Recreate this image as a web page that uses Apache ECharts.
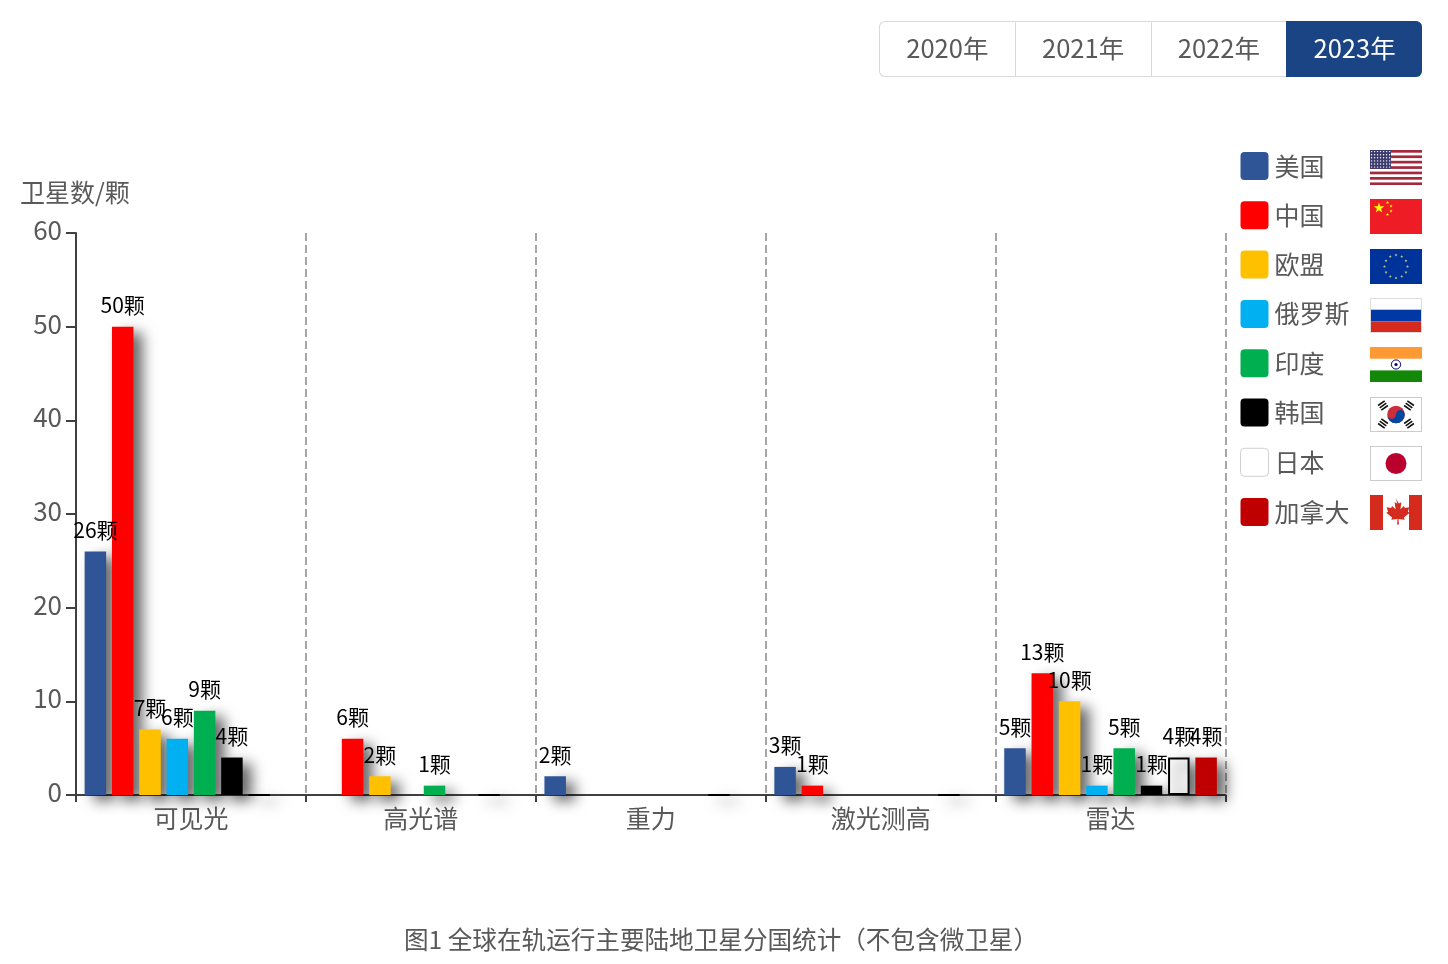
<!DOCTYPE html>
<html>
<head>
<meta charset="utf-8">
<title>全球在轨运行主要陆地卫星分国统计</title>
<style>
html, body { margin: 0; padding: 0; background: #fff; }
body { width: 1448px; height: 964px; position: relative; overflow: hidden; font-family: "Noto Sans CJK SC", sans-serif; }
#main { position: absolute; left: 0; top: 0; width: 1448px; height: 964px; }
.years { position: absolute; left: 879px; top: 21px; height: 56px; display: flex; z-index: 2; }
.years div { width: 134.75px; height: 54px; line-height: 50px; text-align: center; font-size: 25.5px; color: #595959;
    border: 1px solid #d9d9d9; border-right-width: 0; box-sizing: content-box; }
.years div:first-child { border-radius: 6px 0 0 6px; }
.years div.on { background: #1a4484; color: #fff; border-color: #1a4484; border-radius: 0 6px 6px 0; }
.flag { position: absolute; left: 1370px; width: 52px; height: 35px; z-index: 2; display: block; }
</style>
</head>
<body>
<div class="years" id="years"></div>
<div id="main"></div>
<script src="https://cdn.jsdelivr.net/npm/echarts@6/dist/echarts.min.js"></script>
<script type="text/javascript">
var years = ['2020年', '2021年', '2022年', '2023年'];
var categories = ['可见光', '高光谱', '重力', '激光测高', '雷达'];
var countries = ['美国', '中国', '欧盟', '俄罗斯', '印度', '韩国', '日本', '加拿大'];
var colors = ['#2f5597', '#ff0000', '#ffc000', '#00b0f0', '#00b050', '#000000', '#fafafa', '#c00000'];

var usa = [26, 0, 2, 3, 5];
var china = [50, 6, 0, 1, 13];
var eu = [7, 2, 0, 0, 10];
var russia = [6, 0, 0, 0, 1];
var india = [9, 1, 0, 0, 5];
var korea = [4, 0, 0, 0, 1];
var japan = [0, 0, 0, 0, 4];
var canada = [0, 0, 0, 0, 4];
var values = [usa, china, eu, russia, india, korea, japan, canada];

// 国旗
var star = function(cx, cy, r, fill) {
    var pts = [];
    for (var i = 0; i < 10; i++) {
        var a = -Math.PI / 2 + i * Math.PI / 5;
        var d = i % 2 ? r * 0.4 : r;
        pts.push((cx + d * Math.cos(a)).toFixed(2) + ',' + (cy + d * Math.sin(a)).toFixed(2));
    }
    return '<polygon fill="' + fill + '" points="' + pts.join(' ') + '"/>';
};
var usFlag = function() {
    var s = '<rect width="52" height="35" fill="#fff"/>';
    for (var i = 0; i < 7; i++) {
        s += '<rect y="' + (i * 5.4) + '" width="52" height="2.7" fill="#a3293f"/>';
    }
    s += '<rect width="21" height="18.9" fill="#3c3b6e"/>';
    for (var r = 0; r < 6; r++) {
        for (var c = 0; c < 7; c++) {
            s += '<circle cx="' + (1.6 + c * 3) + '" cy="' + (1.6 + r * 3.1) + '" r="0.7" fill="#fff"/>';
        }
    }
    return s;
};
var euFlag = function() {
    var s = '<rect width="52" height="35" fill="#003399"/>';
    for (var i = 0; i < 12; i++) {
        var a = i * Math.PI / 6;
        s += star(26 + 11.5 * Math.cos(a), 17.5 + 11.5 * Math.sin(a), 1.6, '#c9c98a');
    }
    return s;
};
var koreaBars = function() {
    var s = '', pos = [[13, 8.5, -35], [39, 8.5, 35], [13, 26.5, 35], [39, 26.5, -35]];
    for (var i = 0; i < 4; i++) {
        s += '<g transform="translate(' + pos[i][0] + ' ' + pos[i][1] + ') rotate(' + pos[i][2] + ')" fill="#111">' +
            '<rect x="-4" y="-3.6" width="8" height="1.6"/><rect x="-4" y="-0.8" width="8" height="1.6"/><rect x="-4" y="2" width="8" height="1.6"/></g>';
    }
    return s;
};
var flags = [
    usFlag(),
    '<rect width="52" height="35" fill="#ee1c25"/>' + star(9, 9, 5.5, '#ffff00') + star(17.5, 3.5, 1.7, '#ffff00') +
        star(21, 7, 1.7, '#ffff00') + star(21, 12, 1.7, '#ffff00') + star(17.5, 15.5, 1.7, '#ffff00'),
    euFlag(),
    '<rect width="52" height="35" fill="#fff"/><rect y="11.7" width="52" height="11.7" fill="#0039a6"/><rect y="23.4" width="52" height="11.6" fill="#d52b1e"/><rect x=".5" y=".5" width="51" height="34" fill="none" stroke="#ddd"/>',
    '<rect width="52" height="35" fill="#fff"/><rect width="52" height="11.7" fill="#ff9933"/><rect y="23.4" width="52" height="11.6" fill="#138808"/><circle cx="26" cy="17.5" r="4.6" fill="none" stroke="#000080"/><circle cx="26" cy="17.5" r="1.6" fill="#000080"/>',
    '<rect width="52" height="35" fill="#fff"/><rect x=".5" y=".5" width="51" height="34" fill="none" stroke="#ccc"/>' + koreaBars() +
        '<circle cx="26" cy="17.5" r="8.8" fill="#cd2e3a"/><path d="M17.2 17.5a4.4 4.4 0 0 0 8.8 0a4.4 4.4 0 0 1 8.8 0a8.8 8.8 0 0 1-17.6 0z" fill="#0047a0"/>',
    '<rect width="52" height="35" fill="#fff"/><rect x=".5" y=".5" width="51" height="34" fill="none" stroke="#ccc"/><circle cx="26" cy="17.5" r="10.5" fill="#bc002d"/>',
    '<rect width="52" height="35" fill="#fff"/><rect width="13" height="35" fill="#d52b1e"/><rect x="39" width="13" height="35" fill="#d52b1e"/>' +
        '<path d="M26 3.5l2.8 5 2.6-1.2-1 7 3.5-3.4 1 2.1 4.4-.8-1.4 4.6 1.8 1-5.8 4.7.8 2.2-6.2-.8.4 5.6h-1.8l.4-5.6-6.2.8.8-2.2-5.8-4.7 1.8-1-1.4-4.6 4.4.8 1-2.1 3.5 3.4-1-7 2.6 1.2z" fill="#d52b1e"/>'
];

var yearsBox = document.getElementById('years');
for (var y = 0; y < years.length; y++) {
    var btn = document.createElement('div');
    btn.textContent = years[y];
    if (y === years.length - 1) btn.className = 'on';
    yearsBox.appendChild(btn);
}
for (var f = 0; f < flags.length; f++) {
    var wrap = document.createElement('div');
    wrap.innerHTML = '<svg class="flag" style="top:' + (150 + f * 49.3) + 'px" viewBox="0 0 52 35" xmlns="http://www.w3.org/2000/svg">' + flags[f] + '</svg>';
    document.body.appendChild(wrap.firstChild);
}

var textFont = '"Noto Sans CJK SC", sans-serif';
var showLabel = function(p) {
    return p.value === 0 ? '' : p.value + '颗';
};
var series = [];
for (var i = 0; i < countries.length; i++) {
    var isJapan = countries[i] === '日本';
    series.push({
        name: countries[i],
        type: 'bar',
        barWidth: 21.5,
        barGap: '27%',
        data: values[i],
        label: {
            show: true,
            position: 'top',
            distance: 11,
            color: '#000',
            fontSize: 21,
            fontFamily: textFont,
            formatter: showLabel
        },
        itemStyle: {
            color: colors[i],
            borderColor: isJapan ? '#000' : 'transparent',
            borderWidth: isJapan ? 2 : 0,
            shadowColor: 'rgba(0,0,0,0.6)',
            shadowBlur: 14,
            shadowOffsetX: 9,
            shadowOffsetY: 6
        }
    });
}

var legendData = [];
for (var j = 0; j < countries.length; j++) {
    legendData.push({
        name: countries[j],
        itemStyle: {
            color: countries[j] === '日本' ? '#fff' : colors[j],
            borderColor: countries[j] === '日本' ? '#d0d0d0' : 'transparent',
            borderWidth: countries[j] === '日本' ? 1 : 0,
            shadowBlur: 0,
            shadowOffsetX: 0,
            shadowOffsetY: 0
        }
    });
}

var option = {
    animation: false,
    title: {
        text: '图1 全球在轨运行主要陆地卫星分国统计（不包含微卫星）',
        left: 721,
        top: 927,
        padding: 0,
        textAlign: 'center',
        textStyle: { color: '#595959', fontSize: 24.6, fontWeight: 'normal', fontFamily: textFont }
    },
    legend: {
        data: legendData,
        orient: 'vertical',
        left: 1235,
        top: 147,
        itemWidth: 28,
        itemHeight: 28,
        itemGap: 21.3,
        icon: 'path://M4 0H24a4 4 0 0 1 4 4V24a4 4 0 0 1-4 4H4a4 4 0 0 1-4-4V4a4 4 0 0 1 4-4z',
        selectedMode: false,
        textStyle: { color: '#595959', fontSize: 25, fontFamily: textFont, padding: [0, 0, 0, 1] }
    },
    grid: { left: 76, right: 222.5, top: 233, bottom: 169 },
    xAxis: {
        type: 'category',
        data: categories,
        axisLine: { lineStyle: { color: '#404040', width: 2 } },
        axisTick: { show: true, alignWithLabel: false, length: 7, lineStyle: { color: '#404040', width: 2 } },
        axisLabel: { color: '#595959', fontSize: 25, fontFamily: textFont, margin: 11 },
        splitLine: { show: true, lineStyle: { color: '#a6a6a6', type: 'dashed', width: 2 } }
    },
    yAxis: {
        type: 'value',
        min: 0,
        max: 60,
        interval: 10,
        name: '卫星数/颗',
        nameLocation: 'end',
        nameGap: 28,
        nameTextStyle: { color: '#595959', fontSize: 25, fontFamily: textFont, align: 'left', padding: [0, 0, 0, -56] },
        axisLine: { show: true, lineStyle: { color: '#404040', width: 2 } },
        axisTick: { show: true, length: 10, lineStyle: { color: '#404040', width: 2 } },
        axisLabel: { color: '#595959', fontSize: 26, fontFamily: textFont, margin: 14, verticalAlign: 'bottom', lineHeight: 6 },
        splitLine: { show: false }
    },
    series: series
};

var charts = echarts.init(document.getElementById('main'));
charts.setOption(option);
</script>
</body>
</html>
